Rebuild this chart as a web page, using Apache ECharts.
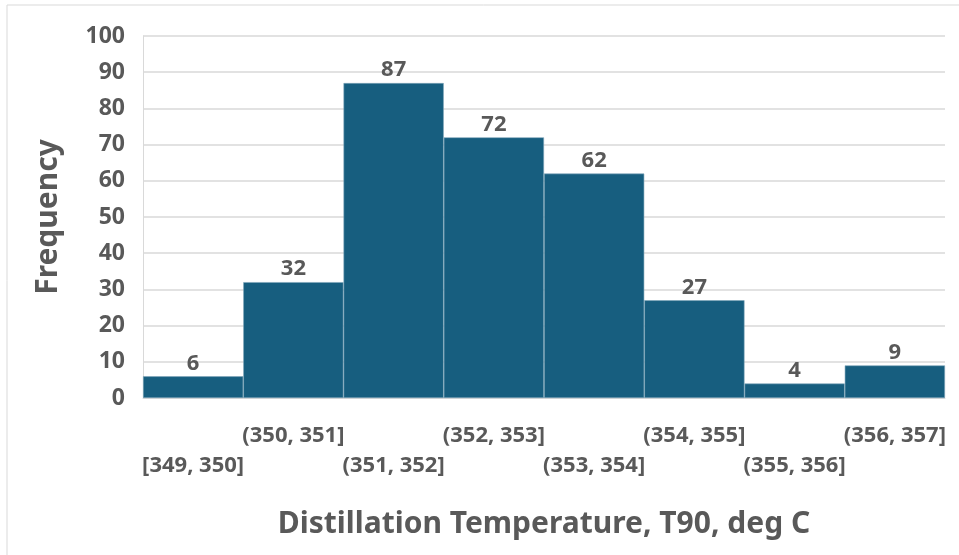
<!DOCTYPE html>
<html>
<head>
<meta charset="utf-8">
<script src="https://cdn.jsdelivr.net/npm/echarts@6/dist/echarts.min.js"></script>
<style>
  html, body { margin: 0; padding: 0; background: #fff; }
  #chart { width: 959px; height: 555px; }
</style>
</head>
<body>
<div id="chart"></div>
<script>
var bins = ["[349, 350]", "(350, 351]", "(351, 352]", "(352, 353]", "(353, 354]", "(354, 355]", "(355, 356]", "(356, 357]"];
var counts = [6, 32, 87, 72, 62, 27, 4, 9];
var yTicks = [0, 10, 20, 30, 40, 50, 60, 70, 80, 90, 100];

var myChart = echarts.init(document.getElementById('chart'));
var grey = '#595959';

var option = {
    backgroundColor: '#fff',
    animation: false,
    graphic: [{
        type: 'rect',
        shape: { x: 7, y: 5, width: 960, height: 560 },
        style: { fill: 'none', stroke: '#d9d9d9', lineWidth: 1 }
    }],
    grid: { left: 143, right: 14, top: 36, bottom: 157 },
    xAxis: {
        type: 'category',
        data: bins,
        axisTick: { show: false },
        axisLine: { show: true, lineStyle: { color: '#d9d9d9' } },
        axisLabel: {
            interval: 0,
            margin: 23,
            color: grey,
            fontFamily: 'Open Sans',
            fontWeight: 'bold',
            fontSize: 22,
            lineHeight: 30,
            formatter: function (v, i) {
                return i % 2 === 0 ? '\n' + v : v;
            }
        },
        name: 'Distillation Temperature, T90, deg C',
        nameLocation: 'middle',
        nameGap: 111,
        nameTextStyle: { color: grey, fontFamily: 'Noto Sans', fontWeight: 'bold', fontSize: 30 }
    },
    yAxis: {
        type: 'value',
        min: yTicks[0],
        max: yTicks[yTicks.length - 1],
        interval: 10,
        axisLine: { show: true, lineStyle: { color: '#d9d9d9' } },
        axisTick: { show: false },
        splitLine: { lineStyle: { color: '#d9d9d9', width: 1.5 } },
        axisLabel: {
            color: grey,
            fontFamily: 'Open Sans',
            fontWeight: 'bold',
            fontSize: 23,
            margin: 18
        },
        name: 'Frequency',
        nameLocation: 'middle',
        nameGap: 80,
        nameTextStyle: { color: grey, fontFamily: 'Noto Sans', fontWeight: 'bold', fontSize: 30 }
    },
    series: [{
        type: 'bar',
        data: counts,
        barCategoryGap: 0,
        itemStyle: { color: '#175e7f', borderColor: '#7fa6bb', borderWidth: 0.6 },
        label: {
            show: true,
            position: 'top',
            distance: 2,
            color: grey,
            fontFamily: 'Open Sans',
            fontWeight: 'bold',
            fontSize: 22
        }
    }]
};

myChart.setOption(option);
</script>
</body>
</html>
